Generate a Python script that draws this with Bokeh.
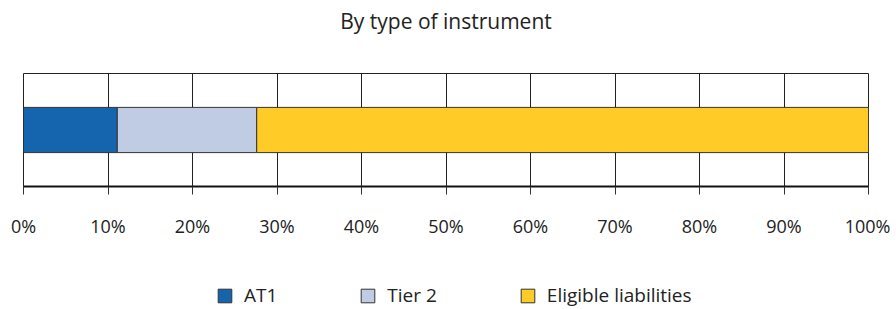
from bokeh.plotting import figure
from bokeh.layouts import column
from bokeh.models import ColumnDataSource, Range1d, FixedTicker, PrintfTickFormatter, Legend, Label
from bokeh.embed import file_html
from bokeh.resources import INLINE

# ---- data ----
title_text = "By type of instrument"
series = ["AT1", "Tier 2", "Eligible liabilities"]
shares = [11.1, 16.5, 72.4]          # percent of total
colors = ["#1565AE", "#BFCCE4", "#FFCB26"]
tick_values = [0, 10, 20, 30, 40, 50, 60, 70, 80, 90, 100]

FONT = "Open Sans"
TXT = "#222222"
EDGE = "#333333"
W = 890

# ---- title strip ----
t = figure(width=W, height=40, output_backend="svg", toolbar_location=None,
           x_range=Range1d(0, 1), y_range=Range1d(0, 1),
           min_border_left=0, min_border_right=0, min_border_top=0, min_border_bottom=0)
t.axis.visible = False
t.grid.visible = False
t.outline_line_color = None
t.add_layout(Label(x=0.5, y=0.5, text=title_text, text_align="center", text_baseline="alphabetic",
                   text_font=FONT, text_font_size="21px", text_color=TXT))

# ---- main chart ----
keys = ["s0", "s1", "s2"]
data = {"y": [0.5]}
for k, v in zip(keys, shares):
    data[k] = [v]
src = ColumnDataSource(data)

p = figure(width=W, height=228, output_backend="svg", toolbar_location=None,
           x_range=Range1d(0, 100), y_range=Range1d(0, 1),
           min_border_left=23, min_border_right=22, min_border_top=33, min_border_bottom=82)

p.hbar_stack(keys, y="y", height=0.4, source=src, fill_color=colors,
             line_color=EDGE, line_width=1)

p.yaxis.visible = False
p.ygrid.visible = False
p.xgrid.ticker = FixedTicker(ticks=tick_values)
p.xgrid.grid_line_color = "#222222"
p.xgrid.grid_line_width = 1
p.xgrid.grid_line_alpha = 1

p.outline_line_color = "#222222"
p.outline_line_width = 1
p.outline_line_alpha = 1

ax = p.xaxis[0]
ax.ticker = FixedTicker(ticks=tick_values)
ax.formatter = PrintfTickFormatter(format="%d%%")
ax.axis_line_color = "#111111"
ax.axis_line_width = 2
ax.major_tick_out = 8
ax.major_tick_in = 0
ax.major_tick_line_color = "#333333"
ax.minor_tick_line_color = None
ax.major_label_standoff = 19
ax.major_label_text_font = FONT
ax.major_label_text_font_size = "18px"
ax.major_label_text_color = TXT

# ---- legend strip (small figure with swatch renderers drawn outside its view) ----
q = figure(width=W, height=41, output_backend="svg", toolbar_location=None,
           x_range=Range1d(0, 1), y_range=Range1d(0, 1),
           min_border_left=0, min_border_right=0, min_border_top=0, min_border_bottom=0)
q.axis.visible = False
q.grid.visible = False
q.outline_line_color = None
swatches = []
for c in colors:
    r = q.hbar(y=[-5], left=[0], right=[1], height=0.5, fill_color=c, line_color=EDGE, line_width=1)
    swatches.append(r)

legend = Legend(items=[(s, [r]) for s, r in zip(series, swatches)],
                orientation="horizontal", location=(193, 1),
                spacing=82, glyph_width=17, glyph_height=17, label_standoff=11,
                padding=0, margin=0, border_line_color=None, background_fill_alpha=0,
                label_text_font=FONT, label_text_font_size="19px", label_text_color=TXT)
q.add_layout(legend, "center")

layout = column(t, p, q, spacing=0)
open("out.html", "w").write(file_html(layout, INLINE))
